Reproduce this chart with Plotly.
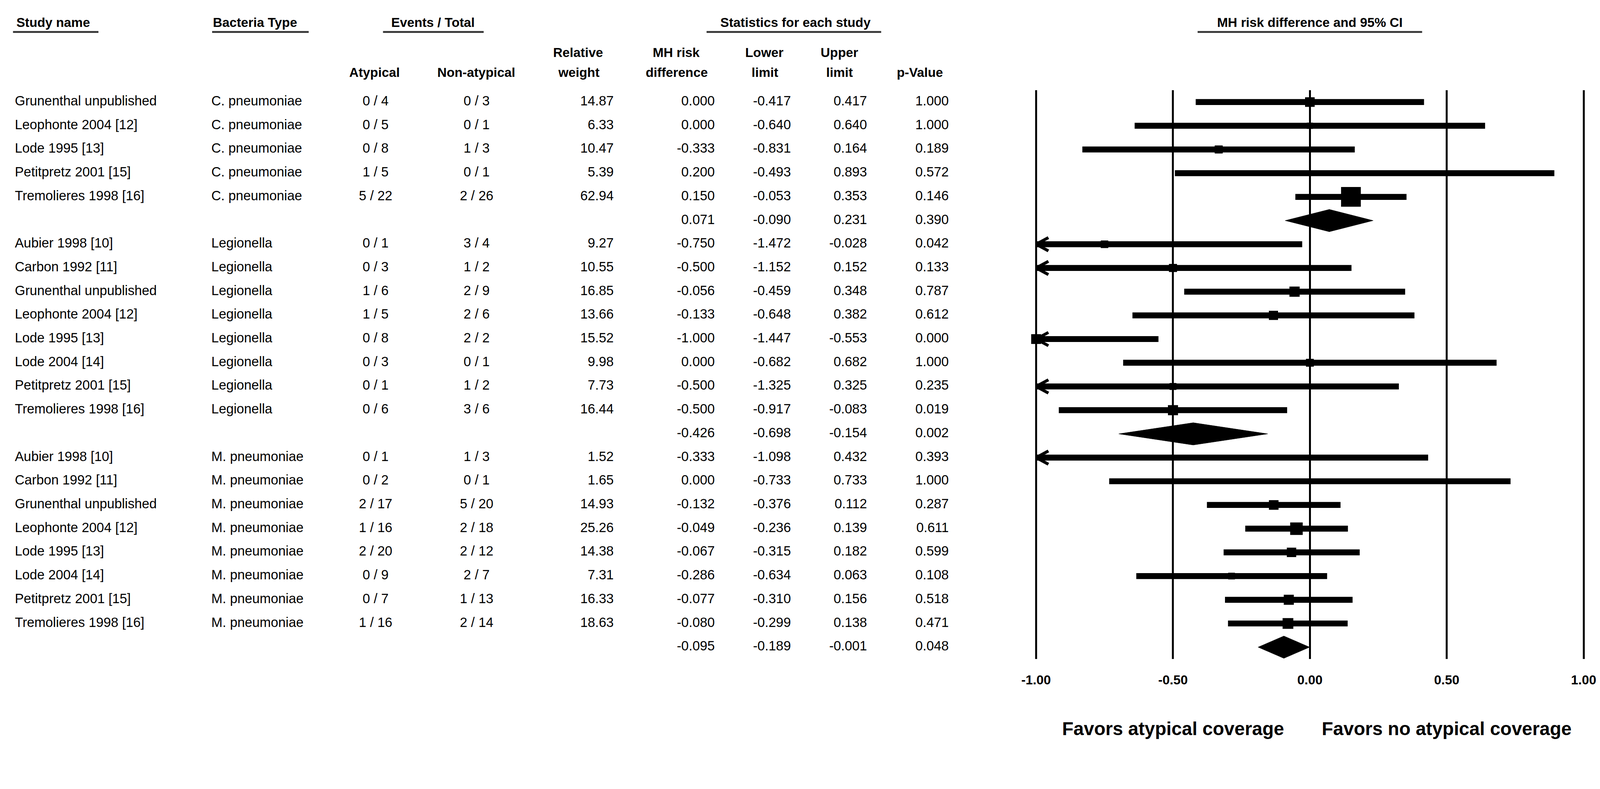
import math
import plotly.graph_objects as go

W, H = 4307, 2021
FONT = "Liberation Sans, Arial, Helvetica, sans-serif"

# ---------------- data (one entry per row; None = pooled/summary row) ----------------
study = ["Grunenthal unpublished", "Leophonte 2004 [12]", "Lode 1995 [13]", "Petitpretz 2001 [15]",
         "Tremolieres 1998 [16]", None,
         "Aubier 1998 [10]", "Carbon 1992 [11]", "Grunenthal unpublished", "Leophonte 2004 [12]",
         "Lode 1995 [13]", "Lode 2004 [14]", "Petitpretz 2001 [15]", "Tremolieres 1998 [16]", None,
         "Aubier 1998 [10]", "Carbon 1992 [11]", "Grunenthal unpublished", "Leophonte 2004 [12]",
         "Lode 1995 [13]", "Lode 2004 [14]", "Petitpretz 2001 [15]", "Tremolieres 1998 [16]", None]
bacteria = ["C. pneumoniae"] * 5 + [None] + ["Legionella"] * 8 + [None] + ["M. pneumoniae"] * 8 + [None]
atyp_events = [0, 0, 0, 1, 5, None, 0, 0, 1, 1, 0, 0, 0, 0, None, 0, 0, 2, 1, 2, 0, 0, 1, None]
atyp_total = [4, 5, 8, 5, 22, None, 1, 3, 6, 5, 8, 3, 1, 6, None, 1, 2, 17, 16, 20, 9, 7, 16, None]
non_events = [0, 0, 1, 0, 2, None, 3, 1, 2, 2, 2, 0, 1, 3, None, 1, 0, 5, 2, 2, 2, 1, 2, None]
non_total = [3, 1, 3, 1, 26, None, 4, 2, 9, 6, 2, 1, 2, 6, None, 3, 1, 20, 18, 12, 7, 13, 14, None]
rel_weight = [14.87, 6.33, 10.47, 5.39, 62.94, None,
              9.27, 10.55, 16.85, 13.66, 15.52, 9.98, 7.73, 16.44, None,
              1.52, 1.65, 14.93, 25.26, 14.38, 7.31, 16.33, 18.63, None]
risk_diff = [0.000, 0.000, -0.333, 0.200, 0.150, 0.071,
             -0.750, -0.500, -0.056, -0.133, -1.000, 0.000, -0.500, -0.500, -0.426,
             -0.333, 0.000, -0.132, -0.049, -0.067, -0.286, -0.077, -0.080, -0.095]
lower = [-0.417, -0.640, -0.831, -0.493, -0.053, -0.090,
         -1.472, -1.152, -0.459, -0.648, -1.447, -0.682, -1.325, -0.917, -0.698,
         -1.098, -0.733, -0.376, -0.236, -0.315, -0.634, -0.310, -0.299, -0.189]
upper = [0.417, 0.640, 0.164, 0.893, 0.353, 0.231,
         -0.028, 0.152, 0.348, 0.382, -0.553, 0.682, 0.325, -0.083, -0.154,
         0.432, 0.733, 0.112, 0.139, 0.182, 0.063, 0.156, 0.138, -0.001]
p_value = [1.000, 1.000, 0.189, 0.572, 0.146, 0.390,
           0.042, 0.133, 0.787, 0.612, 0.000, 1.000, 0.235, 0.019, 0.002,
           0.393, 1.000, 0.287, 0.611, 0.599, 0.108, 0.518, 0.471, 0.048]

tick_vals = [-1.0, -0.5, 0.0, 0.5, 1.0]
tick_text = ["-1.00", "-0.50", "0.00", "0.50", "1.00"]
favors_left = "Favors atypical coverage"
favors_right = "Favors no atypical coverage"

# ---------------- layout constants (pixels) ----------------
X_MIN, X_MAX = -1.0, 1.0            # axis limits of the forest plot
PLOT_TOP, PLOT_BOT = 243, 1775
FX0, FX1 = 2760, 4292               # pixel span of forest x axis
TABLE_W = 2740                      # table axis spans pixels 0..TABLE_W

def py(p):
    return 1 - p / H

n = len(study)
rows = list(range(1, n + 1))
is_study = [s is not None for s in study]

fig = go.Figure()

# ---- confidence interval lines (clipped at axis limits) ----
lx, ly = [], []
for r, ok, lo, up in zip(rows, is_study, lower, upper):
    if ok:
        lx += [max(lo, X_MIN), min(up, X_MAX), None]
        ly += [r, r, None]
fig.add_trace(go.Scatter(x=lx, y=ly, mode="lines", line=dict(color="black", width=16),
                         hoverinfo="skip", showlegend=False, cliponaxis=False))

# ---- arrows where CI goes beyond the limit ----
ax, ay = [], []
for r, ok, lo in zip(rows, is_study, lower):
    if ok and lo < X_MIN:
        ax += [X_MIN + 0.045, X_MIN, X_MIN + 0.045, None]
        ay += [r - 0.28, r, r + 0.28, None]
fig.add_trace(go.Scatter(x=ax, y=ay, mode="lines", line=dict(color="black", width=8),
                         hoverinfo="skip", showlegend=False, cliponaxis=False))

# ---- squares sized by weight ----
sx = [d for d, ok in zip(risk_diff, is_study) if ok]
sy = [r for r, ok in zip(rows, is_study) if ok]
ss = [6.7 * math.sqrt(w) for w, ok in zip(rel_weight, is_study) if ok]
fig.add_trace(go.Scatter(x=sx, y=sy, mode="markers",
                         marker=dict(symbol="square", size=ss, color="black", opacity=1,
                                     line=dict(width=0)),
                         hoverinfo="skip", showlegend=False, cliponaxis=False))

# ---- summary diamonds ----
for r, ok, d, lo, up in zip(rows, is_study, risk_diff, lower, upper):
    if not ok:
        fig.add_trace(go.Scatter(x=[lo, d, up, d, lo], y=[r, r - 0.47, r, r + 0.47, r],
                                 mode="lines", fill="toself", fillcolor="black",
                                 line=dict(color="black", width=1),
                                 hoverinfo="skip", showlegend=False))

# ---------------- table columns (on a pixel-unit axis x2) ----------------
def fmt3(v):
    return f"{v:.3f}"

columns = [
    (40, "middle right", [s if s else "" for s in study]),
    (569, "middle right", [b if b else "" for b in bacteria]),
    (1011, "middle center", [f"{e} / {t}" if e is not None else "" for e, t in zip(atyp_events, atyp_total)]),
    (1283, "middle center", [f"{e} / {t}" if e is not None else "" for e, t in zip(non_events, non_total)]),
    (1652, "middle left", [f"{w:.2f}" if w is not None else "" for w in rel_weight]),
    (1924, "middle left", [fmt3(v) for v in risk_diff]),
    (2129, "middle left", [fmt3(v) for v in lower]),
    (2334, "middle left", [fmt3(v) for v in upper]),
    (2554, "middle left", [fmt3(v) for v in p_value]),
]
for xpos, tpos, texts in columns:
    fig.add_trace(go.Scatter(x=[xpos] * n, y=rows, mode="text", text=texts, textposition=tpos,
                             textfont=dict(family=FONT, size=36, color="black"),
                             xaxis="x2", yaxis="y", hoverinfo="skip", showlegend=False,
                             cliponaxis=False))

# ---------------- headers ----------------
annotations = []
shapes = []
HDR = dict(family=FONT, size=35, color="black")
top_headers = [("Study name", 42, "left", 35, 265),
               ("Bacteria Type", 571, "left", 571, 831),
               ("Events / Total", 1165, "center", 1031, 1302),
               ("Statistics for each study", 2141, "center", 1902, 2372)]
for txt, x, anc, u0, u1 in top_headers:
    annotations.append(dict(text=f"<b>{txt}</b>", x=x, xref="x2", y=py(60), yref="paper",
                            xanchor=anc, yanchor="middle", showarrow=False, font=HDR))
    shapes.append(dict(type="line", xref="x2", yref="paper", x0=u0, x1=u1, y0=py(86), y1=py(86),
                       line=dict(color="#333333", width=5)))
annotations.append(dict(text="<b>MH risk difference and 95% CI</b>", x=0, xref="x", y=py(60),
                        yref="paper", xanchor="center", yanchor="middle", showarrow=False, font=HDR))
shapes.append(dict(type="line", xref="x", yref="paper", x0=-0.41, x1=0.41, y0=py(86), y1=py(86),
                   line=dict(color="#333333", width=5)))

sub_headers = [("Atypical", 1008, 195), ("Non-atypical", 1282, 195),
               ("Relative", 1556, 141), ("weight", 1558, 195),
               ("MH risk", 1820, 141), ("difference", 1821, 195),
               ("Lower", 2057, 141), ("limit", 2059, 195),
               ("Upper", 2260, 141), ("limit", 2260, 195),
               ("p-Value", 2476, 195)]
for txt, x, y in sub_headers:
    annotations.append(dict(text=f"<b>{txt}</b>", x=x, xref="x2", y=py(y), yref="paper",
                            xanchor="center", yanchor="middle", showarrow=False, font=HDR))

FAV = dict(family=FONT, size=50, color="black")
annotations.append(dict(text=f"<b>{favors_left}</b>", x=-0.5, xref="x", y=py(1963), yref="paper",
                        xanchor="center", yanchor="middle", showarrow=False, font=FAV))
annotations.append(dict(text=f"<b>{favors_right}</b>", x=0.5, xref="x", y=py(1963), yref="paper",
                        xanchor="center", yanchor="middle", showarrow=False, font=FAV))

# ---------------- axes ----------------
ppu = (4263 - 2789) / (X_MAX - X_MIN)      # pixels per unit
zero_px = 3526
xr = [(FX0 - zero_px) / ppu, (FX1 - zero_px) / ppu]

fig.update_layout(
    width=W, height=H, autosize=False,
    margin=dict(l=0, r=0, t=0, b=0),
    paper_bgcolor="white", plot_bgcolor="white",
    font=dict(family=FONT, color="black"),
    xaxis=dict(domain=[FX0 / W, FX1 / W], range=xr, tickvals=tick_vals, ticktext=tick_text,
               showgrid=True, gridcolor="black", gridwidth=5, zeroline=False, showline=False,
               ticks="", ticklabelstandoff=32, automargin=False,
               tickfont=dict(family=FONT, size=35, color="black", weight="bold"),
               fixedrange=True),
    xaxis2=dict(domain=[0, TABLE_W / W], range=[0, TABLE_W], visible=False, anchor="y",
                fixedrange=True, automargin=False),
    yaxis=dict(domain=[py(PLOT_BOT), py(PLOT_TOP)], range=[n + 0.5, 0.5], visible=False,
               fixedrange=True, automargin=False),
    annotations=annotations, shapes=shapes,
)

# fit the fixed-size figure into the browser viewport, with no page margins
fit_js = """
(function(){
  var gd = document.getElementById('{plot_id}');
  var de = document.documentElement, b = document.body;
  de.style.margin = '0'; de.style.padding = '0'; de.style.overflow = 'hidden';
  b.style.margin = '0'; b.style.padding = '0'; b.style.overflow = 'hidden';
  var s = Math.min(window.innerWidth / %d, window.innerHeight / %d);
  gd.style.transformOrigin = '0 0';
  gd.style.transform = 'scale(' + s + ')';
})();
""" % (W, H)

fig.write_html("out.html", post_script=fit_js, config={"displayModeBar": False})
